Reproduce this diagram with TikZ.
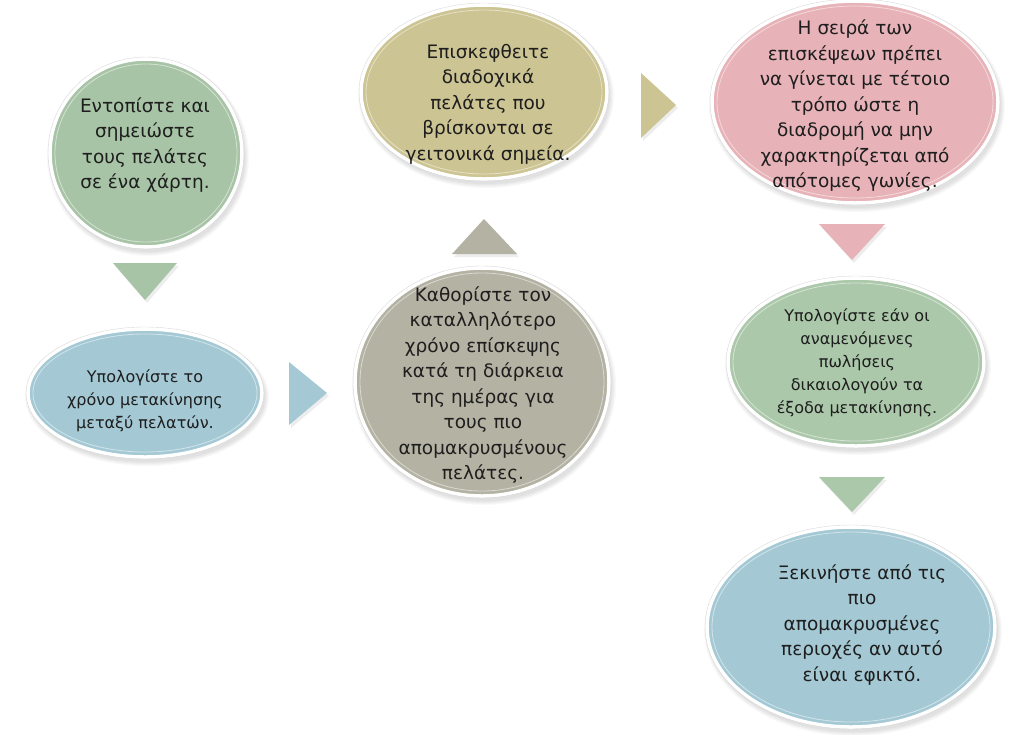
\documentclass[tikz,border=0pt]{standalone}
\usepackage{fontspec}
\setmainfont{DejaVu Sans}
\usetikzlibrary{shapes.geometric,calc}
\definecolor{cgreen}{RGB}{168,196,166}
\definecolor{cgreenb}{RGB}{172,200,170}
\definecolor{cblue}{RGB}{164,201,213}
\definecolor{cgrey}{RGB}{180,178,163}
\definecolor{ckhaki}{RGB}{204,196,146}
\definecolor{cpink}{RGB}{231,179,184}
\definecolor{ctext}{RGB}{30,30,30}
\tikzset{
  bubble/.style={ellipse, draw=white, line width=3.5pt, inner sep=0pt},
  txt/.style={align=center, text=ctext, inner sep=0pt, font=\fontsize{18.5}{25.5}\selectfont},
  smalltxt/.style={txt, font=\fontsize{16}{23}\selectfont},
  arrowshadow/.style={fill=black, opacity=0.07},
}
\newcommand\mybubble[6]{%
  \foreach \k in {1,...,5}{\fill[black,opacity=0.025] (#2+2,#3+4) ellipse ({#4+\k} and {#5+\k});}
  \node[bubble, fill=#6, minimum width={2*#4pt}, minimum height={2*#5pt}] (#1) at (#2,#3) {};
  \draw[white, line width=0.8pt, opacity=0.5] (#1.center) ellipse ({#4-5} and {#5-5});
  \draw[black!15, line width=0.4pt] (#1.center) ellipse ({#4+2} and {#5+2});
}
\newcommand\mytri[4]{%
  \fill[arrowshadow] ($(#1)+(2,3)$) -- ($(#2)+(2,3)$) -- ($(#3)+(2,3)$) -- cycle;
  \fill[#4] (#1) -- (#2) -- (#3) -- cycle;
}
\begin{document}
\begin{tikzpicture}[x=1pt,y=-1pt]
\useasboundingbox (0,0) rectangle (1024,734);
\fill[white] (0,0) rectangle (1024,734);

\mybubble{e1}{146}{153}{96}{94}{cgreen}
\mybubble{e2}{145}{393}{117}{64}{cblue}
\mybubble{e3}{482}{382}{127}{114}{cgrey}
\mybubble{e4}{484}{92}{123}{87}{ckhaki}
\mybubble{e5}{855}{102}{143}{101}{cpink}
\mybubble{e6}{856}{362}{128}{84}{cgreenb}
\mybubble{e7}{851}{627}{144}{100}{cblue}

\coordinate (a1a) at (113,263); \coordinate (a1b) at (177,263); \coordinate (a1c) at (145,300);
\coordinate (a2a) at (289,362); \coordinate (a2b) at (289,425); \coordinate (a2c) at (327,393);
\coordinate (a3a) at (452,254); \coordinate (a3b) at (517,254); \coordinate (a3c) at (484,219);
\coordinate (a4a) at (641,73);  \coordinate (a4b) at (641,138); \coordinate (a4c) at (676,105);
\coordinate (a5a) at (819,224); \coordinate (a5b) at (885,224); \coordinate (a5c) at (852,260);
\coordinate (a6a) at (819,477); \coordinate (a6b) at (885,477); \coordinate (a6c) at (852,512);
\mytri{a1a}{a1b}{a1c}{cgreen}
\mytri{a2a}{a2b}{a2c}{cblue}
\mytri{a3a}{a3b}{a3c}{cgrey}
\mytri{a4a}{a4b}{a4c}{ckhaki}
\mytri{a5a}{a5b}{a5c}{cpink}
\mytri{a6a}{a6b}{a6c}{cgreenb}

\node[txt] (t1) at (145,145) {Εντοπίστε και\\σημειώστε\\τους πελάτες\\σε ένα χάρτη.};
\node[smalltxt] (t2) at (145,401) {Υπολογίστε το\\χρόνο μετακίνησης\\μεταξύ πελατών.};
\node[txt] (t3) at (483,385) {Καθορίστε τον\\καταλληλότερο\\χρόνο επίσκεψης\\κατά τη διάρκεια\\της ημέρας για\\τους πιο\\απομακρυσμένους\\πελάτες.};
\node[txt] (t4) at (488,104) {Επισκεφθειτε\\διαδοχικά\\πελάτες που\\βρίσκονται σε\\γειτονικά σημεία.};
\node[txt] (t5) at (855,106) {Η σειρά των\\επισκέψεων πρέπει\\να γίνεται με τέτοιο\\τρόπο ώστε η\\διαδρομή να μην\\χαρακτηρίζεται από\\απότομες γωνίες.};
\node[smalltxt] (t6) at (857,363) {Υπολογίστε εάν οι\\αναμενόμενες\\πωλήσεις\\δικαιολογούν τα\\έξοδα μετακίνησης.};
\node[txt] (t7) at (862,625) {Ξεκινήστε από τις\\πιο\\απομακρυσμένες\\περιοχές αν αυτό\\είναι εφικτό.};
\end{tikzpicture}
\end{document}
